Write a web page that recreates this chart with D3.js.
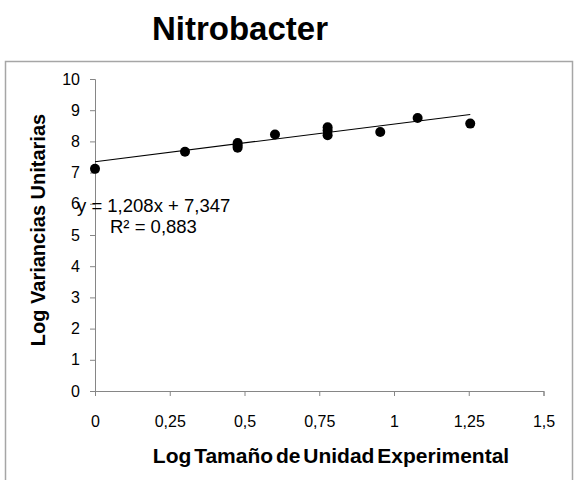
<!DOCTYPE html>
<html><head><meta charset="utf-8">
<script src="https://cdn.jsdelivr.net/npm/d3@7"></script>
<style>body{margin:0;background:#fff}svg{display:block}text{font-family:"Liberation Sans",Arial,sans-serif}</style>
</head><body>
<script>
const xVals = [0, 0.301, 0.477, 0.477, 0.477, 0.602, 0.778, 0.778, 0.778, 0.954, 1.079, 1.255];
const yVals = [7.12, 7.67, 7.95, 7.87, 7.80, 8.22, 8.45, 8.35, 8.20, 8.30, 8.75, 8.57];
const xTicks = [0, 0.25, 0.5, 0.75, 1, 1.25, 1.5];
const xTickLabels = ["0", "0,25", "0,5", "0,75", "1", "1,25", "1,5"];
const yTicks = [0,1,2,3,4,5,6,7,8,9,10];
const slope = 1.208, intercept = 7.347;
const eqText = "y = 1,208x + 7,347";
const r2Text = "R² = 0,883";

const W = 574, H = 480;
const svg = d3.select("body").append("svg").attr("width", W).attr("height", H);
svg.append("rect").attr("x", 5.5).attr("y", 61.5).attr("width", 567).attr("height", 440)
  .attr("fill", "none").attr("stroke", "#a6a6a6").attr("stroke-width", 1.5);

svg.append("text").attr("x", 240).attr("y", 40).attr("text-anchor", "middle")
  .attr("font-size", 33).attr("font-weight", "bold").text("Nitrobacter");

const x = d3.scaleLinear().domain([0, 1.5]).range([95, 543.5]);
const y = d3.scaleLinear().domain([0, 10]).range([391, 79]);

const gx = svg.append("g").attr("transform", `translate(0,${y(0)})`)
  .call(d3.axisBottom(x).tickValues(xTicks).tickFormat((d,i)=>xTickLabels[i]).tickSizeOuter(0).tickSize(5).tickPadding(20));
const gy = svg.append("g").attr("transform", `translate(${x(0)},0)`)
  .call(d3.axisLeft(y).tickValues(yTicks).tickFormat(d=>d).tickSizeOuter(0).tickSize(5).tickPadding(10));
[gx, gy].forEach(g => {
  g.select(".domain").attr("stroke", "#868686");
  g.selectAll(".tick line").attr("stroke", "#868686");
  g.selectAll(".tick text").attr("font-size", 16).attr("fill", "#000").attr("font-family", '"Liberation Sans",Arial,sans-serif');
});

svg.append("text").attr("x", 331).attr("y", 463).attr("text-anchor", "middle")
  .attr("font-size", 21).attr("font-weight", "bold").attr("word-spacing", -3)
  .text("Log Tamaño de Unidad Experimental");
svg.append("text").attr("transform", "translate(45,230) rotate(-90)").attr("text-anchor", "middle")
  .attr("font-size", 20).attr("font-weight", "bold").text("Log Variancias Unitarias");

const xmin = d3.min(xVals), xmax = d3.max(xVals);
svg.append("line").attr("x1", x(xmin)).attr("y1", y(intercept + slope*xmin))
  .attr("x2", x(xmax)).attr("y2", y(intercept + slope*xmax))
  .attr("stroke", "#000").attr("stroke-width", 1.2);

svg.selectAll("circle.pt").data(xVals.map((v,i)=>[v,yVals[i]])).enter().append("circle")
  .attr("class","pt").attr("cx", d=>x(d[0])).attr("cy", d=>y(d[1])).attr("r", 5).attr("fill", "#000");

svg.append("text").attr("x", 77).attr("y", 212).attr("font-size", 18.5).text(eqText);
svg.append("text").attr("x", 110).attr("y", 233).attr("font-size", 18.5).text(r2Text);
</script>
</body></html>
